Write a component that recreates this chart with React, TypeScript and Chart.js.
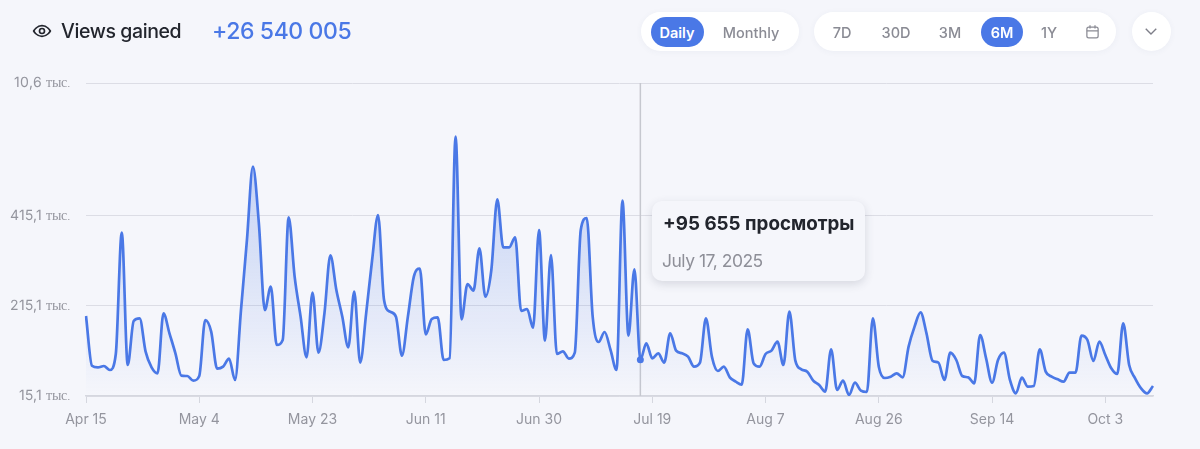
import React, { useEffect, useRef } from "react";
import { Chart, registerables } from "chart.js";

Chart.register(...registerables);

const viewsThousands = [
  192.9, 82.5, 78.8, 81.8, 72.9, 108.4, 378, 84, 181.8, 187.7,
  113.6, 78.8, 65.5, 198.8, 154.4, 109.9, 60.3, 59.5, 49.2, 59.5,
  184, 158.1, 75.8, 80.3, 98.1, 50.7, 206, 361.8, 524.7, 398.8,
  206.2, 258.1, 128.4, 139.5, 412.1, 280.3, 191.4, 101, 244.7, 111.4,
  198.8, 327.7, 250.6, 191.4, 123.2, 246.9, 89.2, 198.8, 317.3, 417.3,
  228.4, 202.5, 191.4, 104.7, 191.4, 280.3, 298.1, 152.1, 186.2, 189.9,
  95.1, 98.8, 591.4, 185.5, 264, 249.2, 343.2, 235.8, 295.1, 452.1,
  345.5, 345.5, 367.7, 204, 208.4, 166.9, 384, 138.1, 328.4, 108.4,
  114.4, 98.1, 111.4, 384, 410.6, 191.4, 135.1, 157.3, 117.3, 72.9,
  449.1, 149.2, 296.6, 95.655, 132.1, 98.8, 109.9, 89.2, 154.4, 115.8,
  109.9, 102.5, 80.3, 89.2, 187.7, 102.5, 70.7, 80.3, 56.6, 47,
  40.3, 163.2, 87.7, 80.3, 108.4, 115.8, 135.8, 84, 202.5, 93.6,
  74.4, 69.2, 49.2, 39.5, 24.7, 118.8, 28.4, 49.2, 17.3, 44.7,
  27, 24, 187.7, 80.3, 55.1, 58.1, 65.5, 56.6, 124.7, 169.2,
  201, 154.4, 93.6, 89.2, 50.7, 111.4, 95.1, 59.5, 56.6, 43.2,
  150.6, 98.8, 44.7, 95.1, 111.4, 50.7, 21, 55.8, 35.8, 37.3,
  118.8, 69.2, 58.1, 52.1, 47, 66.9, 66.9, 149.2, 139.5, 92.9,
  135.8, 106.2, 76.6, 64, 176.6, 84, 54.4, 32.1, 21, 37.3,
];

const xTickLabels = ["Apr 15", "May 4", "May 23", "Jun 11", "Jun 30", "Jul 19", "Aug 7", "Aug 26", "Sep 14", "Oct 3"];
const xTickStep = 19;
const yTickValues = [15.1, 215.1, 415.1, 710.6];
const yTickLabels = ["15,1 тыс.", "215,1 тыс.", "415,1 тыс.", "10,6 тыс."];
const hoverIndex = 93;

const BLUE = "#4a78e6";
const FONT = "Inter, sans-serif";

const fontCss = `
@font-face { font-family: "AxisMix"; src: local("Inter"), local("Inter Regular"); unicode-range: U+0020-007F; }
@font-face { font-family: "AxisMix"; src: local("Liberation Serif"); unicode-range: U+0400-04FF, U+002E; }
`;

const pill = (left: number, width: number, extra: React.CSSProperties = {}): React.CSSProperties => ({
  position: "absolute", left, top: 12, width, height: 39, borderRadius: 20, background: "#ffffff",
  boxShadow: "0 1px 6px rgba(60,70,110,0.05)", ...extra,
});

const Label = ({ x, text, active }: { x: number; text: string; active?: boolean }) => (
  <div style={{
    position: "absolute", left: x, top: 32, transform: "translate(-50%,-50%)", fontSize: 14.5, fontWeight: active ? 600 : 500,
    color: active ? "#ffffff" : "#8a8b94", whiteSpace: "nowrap",
  }}>{text}</div>
);

const crosshair = {
  id: "crosshair",
  beforeDatasetsDraw(chart: any) {
    const { ctx, chartArea, scales } = chart;
    const x = scales.x.getPixelForValue(hoverIndex);
    ctx.save();
    ctx.strokeStyle = "#c6c8cf";
    ctx.lineWidth = 1.5;
    ctx.beginPath();
    ctx.moveTo(x, chartArea.top);
    ctx.lineTo(x, chartArea.bottom);
    ctx.stroke();
    ctx.restore();
  },
};

export default function App() {
  const ref = useRef<HTMLCanvasElement>(null);
  useEffect(() => {
    const chart = new Chart(ref.current!, {
      type: "line",
      plugins: [crosshair],
      data: {
        labels: viewsThousands.map((_, i) => i),
        datasets: [{
          data: viewsThousands,
          borderColor: BLUE,
          borderWidth: 2.7,
          cubicInterpolationMode: "monotone",
          fill: "start",
          backgroundColor: (c: any) => {
            const area = c.chart.chartArea;
            if (!area) return "rgba(74,120,230,0.1)";
            const g = c.chart.ctx.createLinearGradient(0, area.top + 60, 0, area.bottom);
            g.addColorStop(0, "rgba(74,120,230,0.3)");
            g.addColorStop(1, "rgba(74,120,230,0)");
            return g;
          },
          pointRadius: (c: any) => (c.dataIndex === hoverIndex ? 3.5 : 0),
          pointBackgroundColor: BLUE,
          pointBorderWidth: 0,
        }],
      },
      options: {
        animation: false,
        responsive: false,
        layout: { padding: { top: 83, right: 47, left: 0, bottom: 0 } },
        plugins: { legend: { display: false }, tooltip: { enabled: false } },
        scales: {
          x: {
            afterBuildTicks: (s: any) => { s.ticks = xTickLabels.map((_, i) => ({ value: i * xTickStep })); },
            afterFit: (s: any) => { s.height = 53; },
            ticks: {
              autoSkip: false, maxRotation: 0, padding: 8, color: "#94959e",
              font: { family: FONT, size: 14 },
              callback: (_v: any, i: number) => xTickLabels[i],
            },
            grid: { drawOnChartArea: false, drawTicks: true, tickLength: 7, color: "#d5d7df" },
            border: { color: "#d5d7df", width: 1.5 },
          },
          y: {
            min: 15.1, max: 710.6,
            afterBuildTicks: (s: any) => { s.ticks = yTickValues.map((v) => ({ value: v })); },
            afterFit: (s: any) => { s.width = 86; },
            ticks: {
              padding: 15, color: "#94959e",
              font: { family: "AxisMix, Inter, sans-serif", size: 14 },
              callback: (_v: any, i: number) => yTickLabels[i],
            },
            grid: { drawTicks: false, color: "#dcdde5", lineWidth: 1 },
            border: { display: false },
          },
        },
      } as any,
    });
    Promise.all([
      document.fonts.load('14px AxisMix', '10,6'),
      document.fonts.load('14px AxisMix', 'тыс.'),
    ]).then(() => chart.update()).catch(() => {});
    return () => chart.destroy();
  }, []);

  return (
    <div style={{ position: "fixed", inset: 0, width: 1200, height: 449, background: "#f5f6fb", fontFamily: FONT, overflow: "hidden" }}>
      <style>{fontCss}</style>
      <canvas ref={ref} width={1200} height={449} style={{ position: "absolute", left: 0, top: 0, display: "block" }} />

      <svg width="20" height="20" viewBox="0 0 24 24" fill="none" stroke="#22252d" strokeWidth="2" style={{ position: "absolute", left: 32, top: 21 }}>
        <path d="M2 12s3.6-6.5 10-6.5S22 12 22 12s-3.6 6.5-10 6.5S2 12 2 12z" />
        <circle cx="12" cy="12" r="3" />
      </svg>
      <div style={{ position: "absolute", left: 61, top: 31, transform: "translateY(-50%)", fontSize: 19.5, letterSpacing: -0.4, fontWeight: 500, color: "#22252d", whiteSpace: "nowrap" }}>Views gained</div>
      <div style={{ position: "absolute", left: 212, top: 31, transform: "translateY(-50%)", fontSize: 23, letterSpacing: -0.4, fontWeight: 500, color: BLUE, whiteSpace: "nowrap" }}>+26 540 005</div>

      <div style={pill(641, 158)} />
      <div style={pill(651, 53, { top: 17, height: 30, background: BLUE, boxShadow: "none" })} />
      <Label x={677} text="Daily" active />
      <Label x={751} text="Monthly" />

      <div style={pill(814, 302)} />
      <div style={pill(981, 42, { top: 17, height: 30, background: BLUE, boxShadow: "none" })} />
      <Label x={842} text="7D" />
      <Label x={896} text="30D" />
      <Label x={950} text="3M" />
      <Label x={1002} text="6M" active />
      <Label x={1049} text="1Y" />
      <svg width="15" height="15" viewBox="0 0 24 24" fill="none" stroke="#8a8b94" strokeWidth="2" style={{ position: "absolute", left: 1085, top: 24 }}>
        <rect x="3" y="5" width="18" height="17" rx="3" />
        <path d="M3 11h18M8 2v5M16 2v5" />
      </svg>

      <div style={pill(1132, 39)} />
      <svg width="14" height="14" viewBox="0 0 24 24" fill="none" stroke="#7d7e88" strokeWidth="2.4" style={{ position: "absolute", left: 1144, top: 24 }}>
        <path d="M3 8l9 9 9-9" />
      </svg>

      <div style={{
        position: "absolute", left: 652, top: 201, width: 213, height: 80, borderRadius: 10,
        background: "#f5f6fb", boxShadow: "0 3px 10px rgba(50,55,80,0.16)",
      }}>
        <div style={{ position: "absolute", left: 11, top: 22, transform: "translateY(-50%)", fontSize: 18.8, fontWeight: 700, color: "#22252d", whiteSpace: "nowrap" }}>+95 655 просмотры</div>
        <div style={{ position: "absolute", left: 10, top: 59, transform: "translateY(-50%)", fontSize: 17.5, letterSpacing: -0.5, color: "#8e8f98", whiteSpace: "nowrap" }}>July 17, 2025</div>
      </div>
    </div>
  );
}
